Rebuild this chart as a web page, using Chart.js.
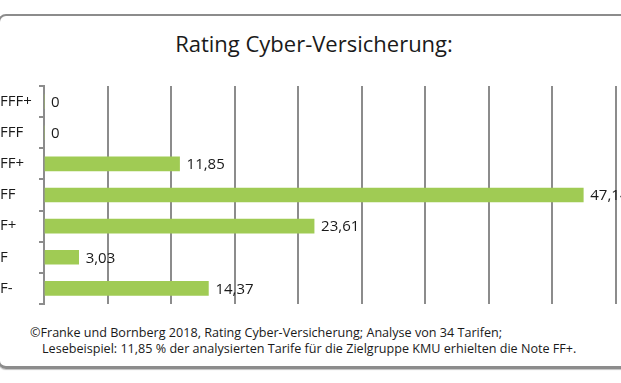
<!DOCTYPE html>
<html>
<head>
<meta charset="utf-8">
<script src="https://cdn.jsdelivr.net/npm/chart.js@4.4.0/dist/chart.umd.min.js"></script>
<style>
  html, body { margin:0; padding:0; background:#fff; overflow:hidden; }
  #wrap { width:621px; height:383px; position:relative; overflow:hidden; font-family:"Open Sans", sans-serif; }
  #frame { position:absolute; left:-2px; top:14px; width:700px; height:355px; border:2px solid #8c8c8c; border-bottom-width:3px; border-radius:8px; box-sizing:border-box; box-shadow:0 1px 1px rgba(0,0,0,0.25); }
  #title { position:absolute; left:0; top:32px; width:628px; text-align:center; font-size:22px; line-height:1; color:#1a1a1a; }
  .foot { position:absolute; font-size:12.6px; line-height:16px; color:#1a1a1a; white-space:nowrap; }
  #c { position:absolute; left:0; top:0; }
</style>
</head>
<body>
<div id="wrap">
<div id="frame"></div>
<div id="title">Rating Cyber-Versicherung:</div>
<div class="foot" style="left:30px; top:325px;">©Franke und Bornberg 2018, Rating Cyber-Versicherung; Analyse von 34 Tarifen;</div>
<div class="foot" style="left:42px; top:341px;">Lesebeispiel: 11,85 % der analysierten Tarife für die Zielgruppe KMU erhielten die Note FF+.</div>
<canvas id="c" width="621" height="383"></canvas>
</div>
<script>
const categories = ["FFF+", "FFF", "FF+", "FF", "F+", "F", "F-"];
const shares = [0, 0, 11.85, 47.14, 23.61, 3.03, 14.37];
const axisMin = 0;
const axisMax = 50;
const gridDivisions = 9;

const gray = '#8c8c8c';

const valueLabels = {
  id: 'valueLabels',
  afterDatasetsDraw(chart) {
    const ctx = chart.ctx;
    const meta = chart.getDatasetMeta(0);
    ctx.save();
    ctx.font = '15px "Open Sans"';
    ctx.fillStyle = '#1a1a1a';
    ctx.textAlign = 'left';
    ctx.textBaseline = 'middle';
    meta.data.forEach((bar, i) => {
      const v = shares[i];
      const txt = v.toLocaleString('de-DE', {maximumFractionDigits: 2});
      ctx.fillText(txt, bar.x + 7, bar.y + 1);
    });
    ctx.restore();
  }
};

new Chart(document.getElementById('c'), {
  type: 'bar',
  data: {
    labels: categories,
    datasets: [{
      data: shares,
      backgroundColor: '#a0cb54',
      borderWidth: 0,
      barThickness: 14
    }]
  },
  options: {
    indexAxis: 'y',
    responsive: false,
    animation: false,
    layout: { padding: { top: 86, bottom: 79, left: 0, right: 5 } },
    plugins: { legend: { display: false }, tooltip: { enabled: false }, title: { display: false } },
    scales: {
      x: {
        type: 'linear',
        min: axisMin,
        max: axisMax,
        afterBuildTicks(scale) {
          const step = (axisMax - axisMin) / gridDivisions;
          scale.ticks = Array.from({length: gridDivisions + 1}, (_, i) => ({ value: axisMin + i * step }));
        },
        ticks: { display: false },
        grid: { color: gray, lineWidth: 2, drawTicks: false, tickLength: 0 },
        border: { display: false }
      },
      y: {
        afterFit(scale) { scale.width = 44; },
        ticks: {
          crossAlign: 'far',
          color: '#1a1a1a',
          font: { family: '"Open Sans"', size: 15 }
        },
        grid: { offset: true, drawOnChartArea: false, drawTicks: true, tickLength: 5, color: gray, lineWidth: 2 },
        border: { display: true, color: gray, width: 2 }
      }
    }
  },
  plugins: [valueLabels]
});
</script>
</body>
</html>
